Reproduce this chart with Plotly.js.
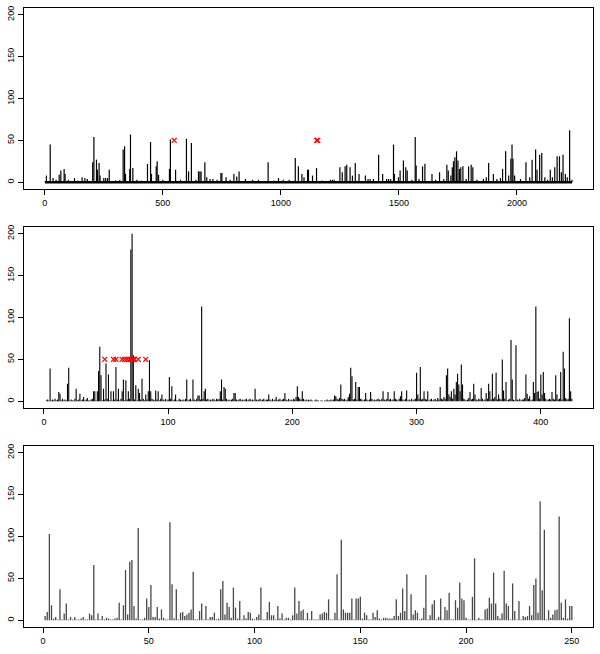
<!DOCTYPE html>
<html>
<head>
<meta charset="utf-8">
<script src="https://cdn.plot.ly/plotly-3.0.1.min.js"></script>
<style>
  body { margin: 0; background: #fff; }
  #chart { width: 600px; height: 654px; }
</style>
</head>
<body>
<div id="chart"></div>
<script>
// panel 1: only the visible spikes (position, height)
const p1Pos = [1,7,23,35,48,61,68,82,86,100,126,140,158,170,180,203,208,219,223,230,234,250,258,266,273,300,318,332,338,342,360,363,373,390,410,435,448,452,472,476,482,500,528,532,554,575,600,609,621,640,651,657,662,678,686,700,712,730,746,750,768,785,801,813,823,850,880,905,946,970,990,1010,1035,1061,1074,1089,1098,1113,1117,1134,1151,1175,1210,1218,1226,1250,1260,1272,1279,1293,1303,1315,1331,1358,1369,1378,1392,1414,1431,1448,1456,1465,1477,1481,1498,1505,1519,1529,1535,1555,1569,1573,1585,1600,1610,1640,1655,1672,1690,1703,1709,1720,1726,1731,1737,1744,1750,1756,1762,1771,1785,1795,1806,1813,1830,1858,1870,1880,1900,1915,1930,1939,1952,1965,1974,1979,1983,1990,2015,2038,2054,2064,2079,2085,2096,2105,2118,2130,2141,2150,2160,2170,2180,2188,2195,2205,2213,2223,2233];
const p1Val = [1,8,45,5,3,9,14,16,10,3,5,2,6,5,4,24,54,27,15,23,8,5,5,5,15,2,3,39,43,10,16,57,17,3,2,22,48,10,19,25,9,3,16,51,15,3,52,13,47,3,13,13,13,24,6,4,4,3,11,11,6,3,10,7,13,4,3,3,24,2,5,3,3,29,19,10,6,15,15,8,17,2,3,3,3,18,12,19,21,18,8,23,10,8,4,4,4,33,10,4,4,4,45,10,6,14,26,18,14,3,54,20,4,19,22,10,3,12,4,21,14,8,18,25,30,37,26,16,18,19,4,19,21,18,3,4,6,23,10,4,5,16,37,8,28,45,28,8,4,24,6,27,39,15,33,35,6,3,15,6,18,31,31,12,33,10,6,62,3];
const p1MarkX = [548, 1152, 1156];
const p1MarkY = [50, 50, 50];

// panel 2: one value per index 1..425
const p2Val = [
  0,1,2,1,39,1,2,1,3,1,
  2,11,9,1,3,1,2,1,21,40,
  1,2,1,1,3,15,1,2,9,1,
  2,5,1,2,4,1,1,2,3,12,
  12,1,12,36,65,31,1,15,2,45,
  3,32,1,12,1,12,2,41,2,15,
  1,3,12,26,1,25,2,12,3,181,
  200,55,2,19,1,15,10,2,27,3,
  1,8,2,12,49,12,3,2,1,13,
  2,12,1,3,8,2,1,3,1,2,
  29,3,18,1,2,8,1,1,3,2,
  1,2,1,3,26,1,2,3,1,26,
  2,1,3,7,7,2,113,3,12,15,
  2,3,1,2,1,3,2,1,3,2,
  3,12,26,2,17,15,3,1,2,1,
  2,3,10,10,2,1,2,3,1,2,
  1,2,3,1,2,3,1,2,1,15,
  2,1,2,3,1,2,3,1,2,2,
  8,2,1,3,1,2,5,1,2,3,
  1,2,3,10,2,1,3,1,2,1,
  3,2,5,18,5,3,2,12,3,1,
  2,1,2,1,2,1,0,1,2,1,
  1,0,1,1,0,1,1,2,1,1,
  2,1,2,7,6,3,2,4,20,3,
  2,3,1,2,5,9,40,30,2,3,
  23,2,17,17,3,2,1,2,10,2,
  1,2,11,3,1,2,1,2,3,2,
  1,3,12,2,1,3,11,2,3,1,
  2,12,3,2,1,3,6,12,2,1,
  3,13,1,2,1,3,1,2,3,34,
  8,3,41,2,3,12,3,2,12,1,
  2,3,1,2,3,1,4,2,17,3,
  2,5,3,31,39,8,5,12,3,15,
  8,23,33,20,12,44,20,3,2,1,
  2,4,11,2,3,21,8,2,1,3,
  2,16,3,1,2,10,3,21,12,2,
  33,3,5,34,2,8,3,2,50,13,
  3,23,1,2,3,73,26,2,1,67,
  2,1,3,1,2,2,4,32,9,3,
  6,1,2,23,10,113,11,12,3,32,
  8,35,10,3,1,2,3,2,11,3,
  2,31,8,2,3,35,2,59,39,4,
  2,3,99,12,3
];
const p2MarkX = [49, 56, 58, 63, 65, 67, 69, 70, 71, 72, 73, 76, 82];
const p2MarkY = [50, 50, 50, 50, 50, 50, 50, 50, 50, 50, 50, 50, 50];

// panel 3: one value per index 1..250
const p3Val = [
  5,10,103,18,2,4,1,37,1,8,
  20,1,4,1,4,1,1,2,4,1,
  1,8,6,66,1,8,1,5,1,3,
  2,1,1,2,3,21,1,18,60,7,
  70,72,17,2,110,1,1,3,26,16,
  42,4,4,16,2,13,3,1,1,117,
  43,2,37,1,9,10,5,7,9,13,
  58,1,1,11,20,1,17,1,4,4,
  9,1,2,37,47,7,21,16,3,39,
  15,2,23,1,6,2,10,9,2,1,
  4,7,39,1,1,10,22,6,6,1,
  17,2,8,1,3,3,1,6,39,8,
  23,11,13,1,9,1,11,1,1,1,
  7,8,10,9,25,1,1,9,55,1,
  96,13,9,9,9,26,1,26,26,28,
  2,9,6,1,1,9,4,12,2,1,
  3,3,2,2,2,5,25,5,9,38,
  11,55,1,31,7,12,9,1,2,15,
  54,1,6,19,24,1,4,26,1,16,
  12,33,1,1,24,15,45,26,24,3,
  1,1,28,74,1,3,1,1,13,14,
  27,20,57,20,5,2,8,59,20,17,
  1,44,11,1,23,1,5,4,5,17,
  6,42,50,9,142,36,108,1,12,3,
  7,12,13,124,21,3,25,2,17,17
];

function spikes(xs, ys) {
  const x = [], y = [];
  for (let i = 0; i < xs.length; i++) {
    x.push(xs[i], xs[i], null);
    y.push(0, ys[i], null);
  }
  return { x: x, y: y };
}
function seq(n) {
  const a = [];
  for (let i = 1; i <= n; i++) a.push(i);
  return a;
}

const s1 = spikes(p1Pos, p1Val);
const s2 = spikes(seq(p2Val.length), p2Val);
const s3 = spikes(seq(p3Val.length), p3Val);

const red = { color: "#ff0000", symbol: "x-thin", size: 5, line: { color: "#ff0000", width: 1.3 } };

const traces = [
  { x: [p1Pos[0], p1Pos[p1Pos.length - 1]], y: [0, 0], mode: "lines", line: { color: "#000", width: 2.5 }, xaxis: "x", yaxis: "y", hoverinfo: "skip" },
  { x: s1.x, y: s1.y, mode: "lines", line: { color: "#000", width: 1.2 }, xaxis: "x", yaxis: "y" },
  { x: p1MarkX, y: p1MarkY, mode: "markers", marker: red, xaxis: "x", yaxis: "y" },
  { x: s2.x, y: s2.y, mode: "lines", line: { color: "#000", width: 1.1 }, xaxis: "x2", yaxis: "y2" },
  { x: p2MarkX, y: p2MarkY, mode: "markers", marker: red, xaxis: "x2", yaxis: "y2" },
  { x: s3.x, y: s3.y, mode: "lines", line: { color: "#484848", width: 1.3 }, xaxis: "x3", yaxis: "y3" }
];

const font = { family: "Liberation Sans, Arial, sans-serif", size: 9, color: "#000" };
function xax(range, dtick, anchor) {
  return { range: range, dtick: dtick, tick0: 0, anchor: anchor, showgrid: false, zeroline: false,
    showline: true, mirror: true, linecolor: "#000", linewidth: 1, ticks: "outside", ticklen: 5,
    tickcolor: "#000", tickfont: font };
}
function yax(domain, anchor) {
  return { domain: domain, range: [-8, 208], tickvals: [0, 50, 100, 150, 200], anchor: anchor,
    showgrid: false, zeroline: false, showline: true, mirror: true, linecolor: "#000", linewidth: 1,
    ticks: "outside", ticklen: 5, tickcolor: "#000", tickangle: -90, tickfont: font };
}

const layout = {
  width: 600, height: 654,
  margin: { l: 24, r: 7, t: 8, b: 27 },
  showlegend: false,
  paper_bgcolor: "#fff", plot_bgcolor: "#fff",
  xaxis: xax([-88, 2322], 500, "y"),
  yaxis: yax([0.7076, 1], "x"),
  xaxis2: xax([-16, 442], 100, "y2"),
  yaxis2: yax([0.3538, 0.6462], "x2"),
  xaxis3: xax([-9, 260], 50, "y3"),
  yaxis3: yax([0, 0.2924], "x3")
};

Plotly.newPlot("chart", traces, layout, { displayModeBar: false, staticPlot: true });
</script>
</body>
</html>
